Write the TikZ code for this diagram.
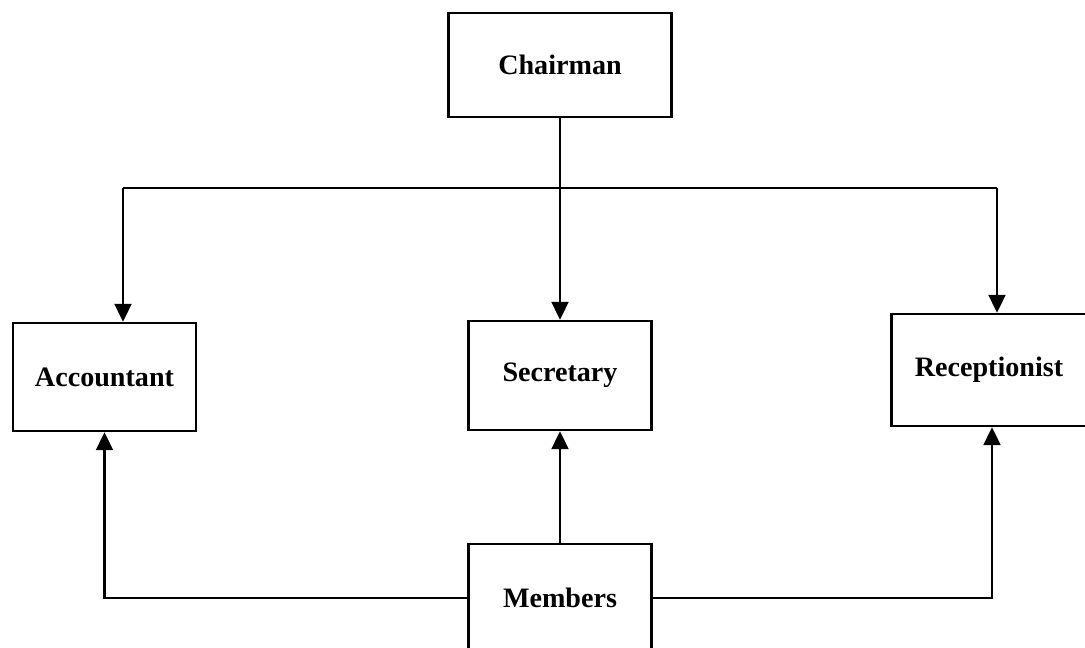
\documentclass[tikz,border=0pt]{standalone}
\usepackage{fontspec}
\setmainfont{Liberation Serif}
\usetikzlibrary{arrows.meta,calc}
\tikzstyle{box}=[draw,
                 line width=1.4pt,
                 minimum width=3.66cm,
                 minimum height=2.16cm,
                 font=\fontsize{16}{19}\selectfont\bfseries,
                 text centered]
\tikzstyle{link}=[line width=1.3pt,-{Triangle[length=3.6mm,width=3.4mm]}]
\begin{document}
\begin{tikzpicture}
    \useasboundingbox (0,0) rectangle (21.7,12.96);
    \node[box, minimum width=4.46cm, minimum height=2.08cm] (chairman) at (11.2,11.66) {Chairman};
    \node[box] (accountant) at (2.09,5.42) {Accountant};
    \node[box, minimum height=2.18cm] (secretary) at (11.2,5.45) {Secretary};
    \node[box, minimum width=3.9cm, minimum height=2.24cm] (receptionist) at (19.78,5.56) {Receptionist};
    \node[box] (members) at (11.2,1.0) {Members};
    \coordinate (busleft) at (2.46,9.2);
    \coordinate (busright) at (19.94,9.2);
    \draw[line width=1.3pt] (busleft) -- (busright);
    \draw[link] (chairman.south) -- (secretary.north);
    \draw[link] (busleft) -- (busleft |- accountant.north);
    \draw[link] (busright) -- (busright |- receptionist.north);
    \draw[link] (members.north) -- (secretary.south);
    \draw[link] (members.west) -| (accountant.south);
    \draw[link] (members.east) -| ([xshift=0.06cm]receptionist.south);
\end{tikzpicture}
\end{document}
